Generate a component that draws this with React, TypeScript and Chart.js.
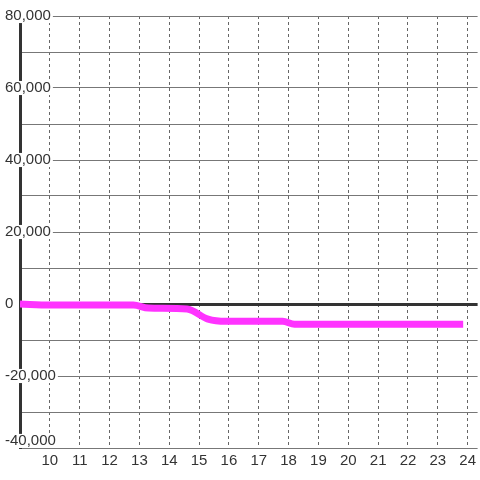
import React, { useEffect, useRef } from "react";
import { Chart, registerables } from "chart.js";

Chart.register(...registerables);

const hours = [9, 10, 12.8, 13.3, 14.6, 15.3, 15.9, 17.8, 18.2, 23.85];
const values = [0, -300, -300, -1100, -1400, -4200, -4800, -4800, -5600, -5600];
const xTickValues = [10, 11, 12, 13, 14, 15, 16, 17, 18, 19, 20, 21, 22, 23, 24];
const yMin = -40000;
const yMax = 80000;
const yStep = 10000;
const yLabelStep = 20000;

export default function App() {
  const ref = useRef<HTMLCanvasElement>(null);

  useEffect(() => {
    if (!ref.current) return;
    const fmt = (v: number) => v.toLocaleString("en-US");
    const labelFont = { family: "'Liberation Sans', Arial, sans-serif", size: 15, lineHeight: 0.94 };
    const chart = new Chart(ref.current, {
      type: "line",
      data: {
        datasets: [
          {
            data: hours.map((h, i) => ({ x: h, y: values[i] })),
            borderColor: "#ff33ff",
            borderWidth: 7,
            pointRadius: 0,
            fill: false,
            cubicInterpolationMode: "monotone",
            borderCapStyle: "butt",
            yAxisID: "y",
          },
        ],
      },
      options: {
        animation: false,
        responsive: false,
        layout: { padding: { top: 16, left: 5, right: 0, bottom: 0 } },
        plugins: { legend: { display: false }, tooltip: { enabled: false } },
        scales: {
          x: {
            type: "linear",
            position: "bottom",
            min: 9,
            max: 9 + 460 / 30,
            afterBuildTicks: (scale: any) => {
              scale.ticks = xTickValues.map((v) => ({ value: v }));
            },
            afterFit: (scale: any) => {
              scale.height = 32;
            },
            grid: { color: "#666", lineWidth: 1, drawTicks: false },
            border: { display: false, dash: [3, 3] },
            ticks: {
              z: 1,
              padding: 4,
              maxRotation: 0,
              autoSkip: false,
              color: "#333",
              font: { family: "'Liberation Sans', Arial, sans-serif", size: 15, lineHeight: 1.2 },
              callback: (v: any) => String(v),
            },
          },
          y: {
            type: "linear",
            position: "left",
            weight: 0,
            min: yMin,
            max: yMax,
            afterFit: (scale: any) => {
              scale.width = 15;
            },
            grid: {
              drawTicks: false,
              color: (ctx: any) => (ctx.tick && ctx.tick.value === 0 ? "#333" : "#777"),
              lineWidth: (ctx: any) => (ctx.tick && ctx.tick.value === 0 ? 3 : 1),
            },
            border: { display: true, color: "#333", width: 3 },
            ticks: {
              stepSize: yStep,
              mirror: true,
              crossAlign: "near",
              padding: -15,
              color: "#333",
              font: labelFont,
              showLabelBackdrop: (ctx: any) =>
                ctx.tick && ctx.tick.value % yLabelStep === 0 && ctx.tick.value !== yMin,
              backdropColor: "#ffffff",
              backdropPadding: { left: 1, right: 2, top: 0, bottom: 0 },
              callback: (v: any) => {
                const n = Number(v);
                if (n % yLabelStep !== 0 || n === yMin) return "";
                return fmt(n);
              },
            },
          },
          yBottom: {
            type: "linear",
            position: "left",
            weight: 1,
            min: yMin,
            max: yMax,
            afterFit: (scale: any) => {
              scale.width = 0;
            },
            grid: { display: false, drawTicks: false },
            border: { display: false },
            ticks: {
              stepSize: yLabelStep,
              mirror: true,
              crossAlign: "near",
              align: "end",
              padding: 0,
              z: 1,
              color: "#333",
              font: labelFont,
              showLabelBackdrop: (ctx: any) => ctx.tick && ctx.tick.value === yMin,
              backdropColor: "#ffffff",
              backdropPadding: { left: 1, right: 2, top: 0, bottom: 0 },
              callback: (v: any) => (Number(v) === yMin ? fmt(Number(v)) : ""),
            },
          },
        },
      },
    } as any);
    return () => chart.destroy();
  }, []);

  return (
    <div style={{ position: "absolute", left: 0, top: 0, width: 480, height: 480, background: "#fff" }}>
      <canvas ref={ref} width={480} height={480} style={{ display: "block" }} />
    </div>
  );
}
